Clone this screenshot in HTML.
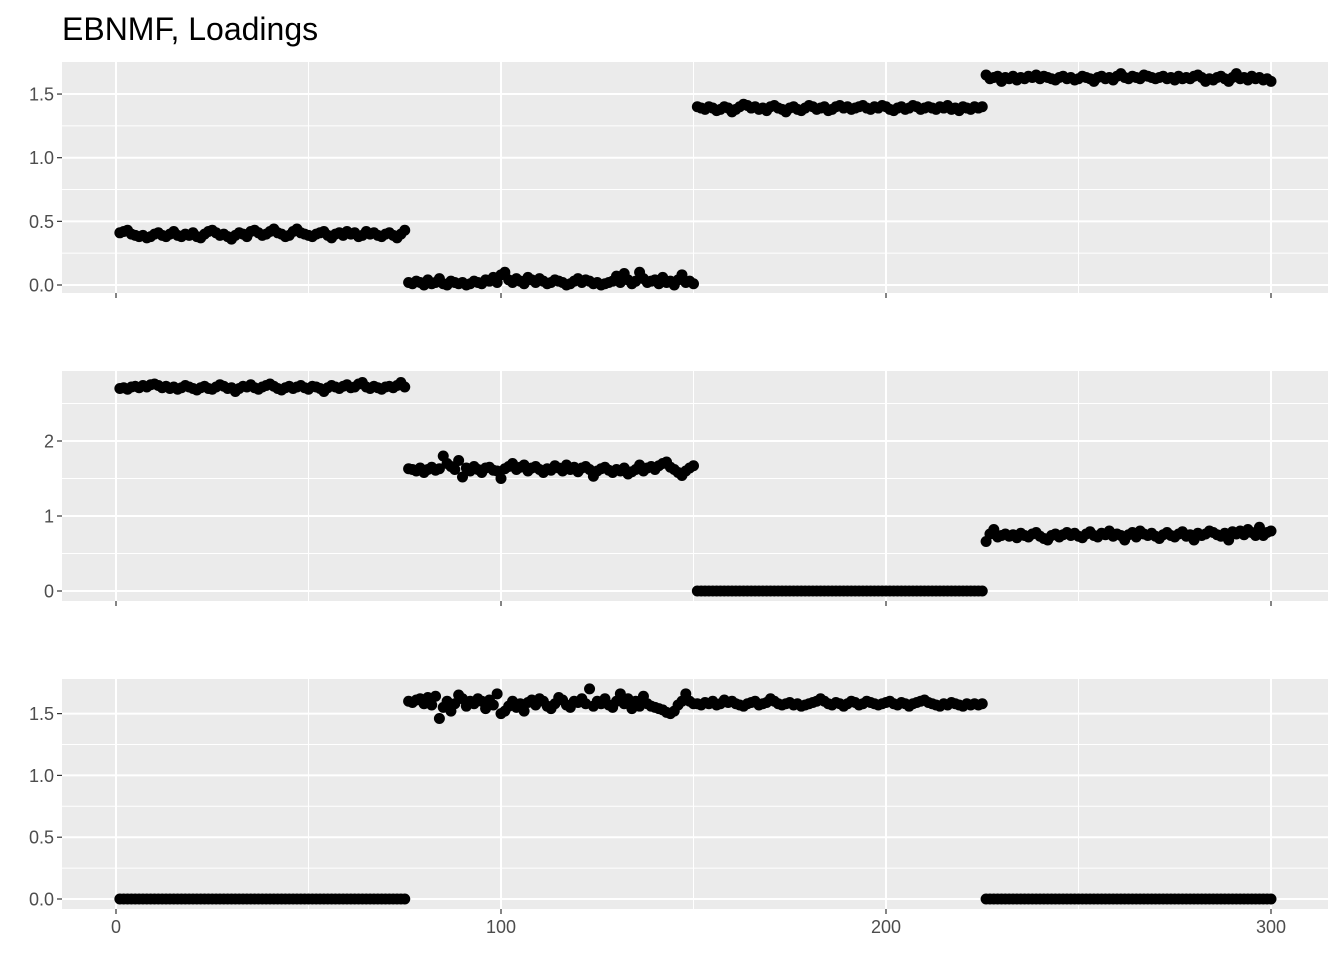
<!DOCTYPE html>
<html><head><meta charset="utf-8"><style>
html,body{margin:0;padding:0;background:#fff;}
svg{display:block;font-family:"Liberation Sans",sans-serif;}
</style></head><body>
<svg id="chart" width="1344" height="960">
<text x="62" y="40" font-size="32" fill="#000">EBNMF, Loadings</text>
</svg>
<script>
const xTicks=[0,100,200,300];
const xMinor=[50,150,250];
const p1Ticks=[0,0.5,1,1.5];
const p2Ticks=[0,1,2];
const p3Ticks=[0,0.5,1,1.5];
const p1Labels=["0.0","0.5","1.0","1.5"];
const p2Labels=["0","1","2"];
const p3Labels=["0.0","0.5","1.0","1.5"];
const loading1=[
0.41,0.42,0.43,0.40,0.39,0.38,0.39,0.37,0.38,0.40,0.41,0.39,0.38,0.40,0.42,
0.39,0.38,0.40,0.39,0.41,0.38,0.37,0.40,0.42,0.43,0.41,0.39,0.40,0.38,0.36,
0.39,0.41,0.40,0.38,0.42,0.43,0.41,0.39,0.40,0.42,0.44,0.41,0.40,0.38,0.39,
0.42,0.44,0.41,0.40,0.39,0.38,0.40,0.41,0.42,0.39,0.37,0.40,0.41,0.39,0.42,
0.40,0.41,0.38,0.39,0.42,0.40,0.41,0.39,0.38,0.40,0.41,0.39,0.37,0.40,0.43,
0.02,0.01,0.03,0.02,0.00,0.04,0.01,0.02,0.05,0.01,0.00,0.03,0.02,0.01,0.02,
0.00,0.01,0.03,0.02,0.01,0.04,0.03,0.06,0.02,0.08,0.10,0.04,0.02,0.05,0.03,
0.01,0.06,0.04,0.02,0.05,0.03,0.01,0.02,0.04,0.03,0.02,0.00,0.01,0.03,0.05,
0.02,0.04,0.03,0.01,0.02,0.00,0.01,0.02,0.03,0.07,0.02,0.09,0.04,0.01,0.03,
0.10,0.05,0.02,0.03,0.04,0.01,0.06,0.02,0.03,0.00,0.04,0.08,0.02,0.03,0.01,
1.40,1.39,1.38,1.40,1.39,1.37,1.38,1.40,1.39,1.36,1.38,1.40,1.42,1.41,1.39,
1.40,1.38,1.39,1.37,1.40,1.41,1.39,1.38,1.36,1.39,1.40,1.38,1.37,1.39,1.41,
1.40,1.38,1.39,1.40,1.37,1.38,1.40,1.41,1.39,1.40,1.38,1.39,1.40,1.41,1.39,
1.38,1.40,1.39,1.41,1.40,1.38,1.37,1.39,1.40,1.38,1.39,1.41,1.40,1.38,1.39,
1.40,1.39,1.38,1.40,1.39,1.41,1.38,1.39,1.37,1.40,1.39,1.38,1.40,1.39,1.40,
1.65,1.62,1.63,1.64,1.60,1.63,1.62,1.64,1.61,1.63,1.62,1.64,1.63,1.65,1.62,
1.64,1.63,1.62,1.61,1.63,1.64,1.62,1.63,1.61,1.62,1.64,1.63,1.62,1.60,1.63,
1.64,1.62,1.63,1.61,1.64,1.66,1.63,1.62,1.64,1.63,1.62,1.65,1.64,1.63,1.62,
1.63,1.64,1.62,1.63,1.61,1.64,1.62,1.63,1.62,1.64,1.65,1.63,1.60,1.62,1.61,
1.63,1.64,1.62,1.60,1.63,1.66,1.62,1.63,1.61,1.64,1.62,1.63,1.61,1.62,1.60];
const loading2=[
2.70,2.71,2.69,2.72,2.73,2.71,2.74,2.72,2.75,2.76,2.74,2.71,2.73,2.70,2.72,
2.69,2.71,2.74,2.72,2.70,2.68,2.71,2.73,2.70,2.69,2.72,2.75,2.73,2.70,2.71,
2.66,2.70,2.73,2.72,2.75,2.71,2.69,2.72,2.74,2.76,2.73,2.70,2.68,2.71,2.73,
2.70,2.72,2.74,2.71,2.69,2.73,2.72,2.70,2.66,2.71,2.74,2.72,2.70,2.73,2.75,
2.71,2.72,2.76,2.78,2.72,2.70,2.73,2.71,2.69,2.72,2.73,2.71,2.74,2.78,2.72,
1.63,1.62,1.60,1.64,1.58,1.62,1.65,1.61,1.63,1.80,1.70,1.66,1.62,1.74,1.52,
1.64,1.60,1.66,1.62,1.58,1.64,1.65,1.61,1.60,1.50,1.63,1.66,1.70,1.62,1.65,
1.68,1.60,1.64,1.66,1.62,1.58,1.63,1.61,1.67,1.64,1.60,1.68,1.62,1.65,1.59,
1.64,1.66,1.62,1.53,1.60,1.63,1.65,1.61,1.58,1.62,1.60,1.64,1.56,1.59,1.62,
1.68,1.60,1.64,1.66,1.62,1.67,1.70,1.72,1.65,1.62,1.58,1.54,1.60,1.64,1.67,
0,0,0,0,0,0,0,0,0,0,0,0,0,0,0,
0,0,0,0,0,0,0,0,0,0,0,0,0,0,0,
0,0,0,0,0,0,0,0,0,0,0,0,0,0,0,
0,0,0,0,0,0,0,0,0,0,0,0,0,0,0,
0,0,0,0,0,0,0,0,0,0,0,0,0,0,0,
0.66,0.76,0.82,0.72,0.74,0.76,0.73,0.75,0.71,0.77,0.74,0.72,0.76,0.78,0.73,
0.70,0.68,0.74,0.76,0.72,0.75,0.78,0.74,0.77,0.73,0.71,0.76,0.79,0.74,0.72,
0.77,0.75,0.80,0.73,0.76,0.74,0.68,0.75,0.78,0.72,0.80,0.76,0.74,0.77,0.73,
0.70,0.75,0.78,0.74,0.72,0.76,0.79,0.73,0.75,0.68,0.77,0.74,0.76,0.80,0.78,
0.75,0.73,0.77,0.68,0.79,0.76,0.80,0.75,0.82,0.78,0.74,0.85,0.74,0.78,0.80];
const loading3=[
0,0,0,0,0,0,0,0,0,0,0,0,0,0,0,
0,0,0,0,0,0,0,0,0,0,0,0,0,0,0,
0,0,0,0,0,0,0,0,0,0,0,0,0,0,0,
0,0,0,0,0,0,0,0,0,0,0,0,0,0,0,
0,0,0,0,0,0,0,0,0,0,0,0,0,0,0,
1.60,1.59,1.61,1.62,1.58,1.63,1.57,1.64,1.46,1.55,1.60,1.52,1.58,1.65,1.62,
1.56,1.60,1.58,1.62,1.60,1.54,1.61,1.57,1.66,1.50,1.52,1.56,1.60,1.55,1.58,
1.52,1.59,1.61,1.57,1.62,1.60,1.56,1.54,1.58,1.63,1.61,1.57,1.55,1.60,1.59,
1.62,1.58,1.70,1.56,1.60,1.58,1.62,1.57,1.55,1.60,1.66,1.58,1.62,1.54,1.60,
1.56,1.64,1.58,1.56,1.55,1.54,1.53,1.51,1.50,1.52,1.57,1.60,1.66,1.60,1.58,
1.58,1.57,1.59,1.58,1.60,1.57,1.58,1.61,1.59,1.60,1.58,1.57,1.56,1.58,1.59,
1.60,1.57,1.58,1.59,1.62,1.60,1.58,1.57,1.58,1.59,1.57,1.58,1.56,1.57,1.58,
1.59,1.60,1.62,1.60,1.58,1.57,1.59,1.58,1.56,1.58,1.60,1.59,1.57,1.58,1.60,
1.59,1.58,1.57,1.58,1.59,1.60,1.58,1.57,1.59,1.58,1.56,1.58,1.59,1.60,1.61,
1.59,1.58,1.57,1.56,1.58,1.57,1.59,1.58,1.57,1.56,1.58,1.57,1.58,1.57,1.58,
0,0,0,0,0,0,0,0,0,0,0,0,0,0,0,
0,0,0,0,0,0,0,0,0,0,0,0,0,0,0,
0,0,0,0,0,0,0,0,0,0,0,0,0,0,0,
0,0,0,0,0,0,0,0,0,0,0,0,0,0,0,
0,0,0,0,0,0,0,0,0,0,0,0,0,0,0];

const NS="http://www.w3.org/2000/svg";
const svg=document.getElementById('chart');
const L=62,R=1328;
const xs=v=>116+(v/300)*(1271-116);
function mk(tag,attrs,parent){const e=document.createElementNS(NS,tag);for(const k in attrs)e.setAttribute(k,attrs[k]);(parent||svg).appendChild(e);return e;}
const panels=[
 {name:'panel-1',top:62,bot:293,y0:285,ppu:127.3,ticks:p1Ticks,labels:p1Labels,minor:[0.25,0.75,1.25],data:loading1},
 {name:'panel-2',top:371,bot:601,y0:591,ppu:75,ticks:p2Ticks,labels:p2Labels,minor:[0.5,1.5,2.5],data:loading2},
 {name:'panel-3',top:679,bot:909,y0:899,ppu:123.6,ticks:p3Ticks,labels:p3Labels,minor:[0.25,0.75,1.25],data:loading3}
];
panels.forEach((p,pi)=>{
 const g=mk('g',{});
 
 
 const ys=v=>p.y0-v*p.ppu;
 const bg=mk('rect',{x:L,y:p.top,width:R-L,height:p.bot-p.top,fill:'#EBEBEB'},g);
 
 
 p.minor.forEach(v=>{const l=mk('line',{x1:L,x2:R,y1:ys(v),y2:ys(v),stroke:'#fff','stroke-width':1},g);
  
  });
 xMinor.forEach(v=>{const l=mk('line',{x1:xs(v),x2:xs(v),y1:p.top,y2:p.bot,stroke:'#fff','stroke-width':1},g);
  
  });
 p.ticks.forEach((v,i)=>{
  const l=mk('line',{x1:L,x2:R,y1:ys(v),y2:ys(v),stroke:'#fff','stroke-width':2},g);
  
  
  const t=mk('line',{x1:57,x2:L,y1:ys(v),y2:ys(v),stroke:'#333','stroke-width':1.2},g);
  
  
  const tx=mk('text',{x:54,y:ys(v)+6.5,'text-anchor':'end','font-size':18,fill:'#4D4D4D'},g);
  tx.textContent=p.labels[i];
  
  
 });
 xTicks.forEach(v=>{
  const l=mk('line',{x1:xs(v),x2:xs(v),y1:p.top,y2:p.bot,stroke:'#fff','stroke-width':2},g);
  
  
  const t=mk('line',{x1:xs(v),x2:xs(v),y1:p.bot,y2:p.bot+5,stroke:'#333','stroke-width':1.2},g);
  
  
  if(pi===2){
   const tx=mk('text',{x:xs(v),y:p.bot+24,'text-anchor':'middle','font-size':18,fill:'#4D4D4D'},g);
   tx.textContent=String(v);
   
   
  }
 });
 p.data.forEach((v,i)=>{
  const c=mk('circle',{cx:xs(i+1),cy:ys(v),r:5.5,fill:'#000'},g);
  
  
 });
});
</script>
</body></html>
